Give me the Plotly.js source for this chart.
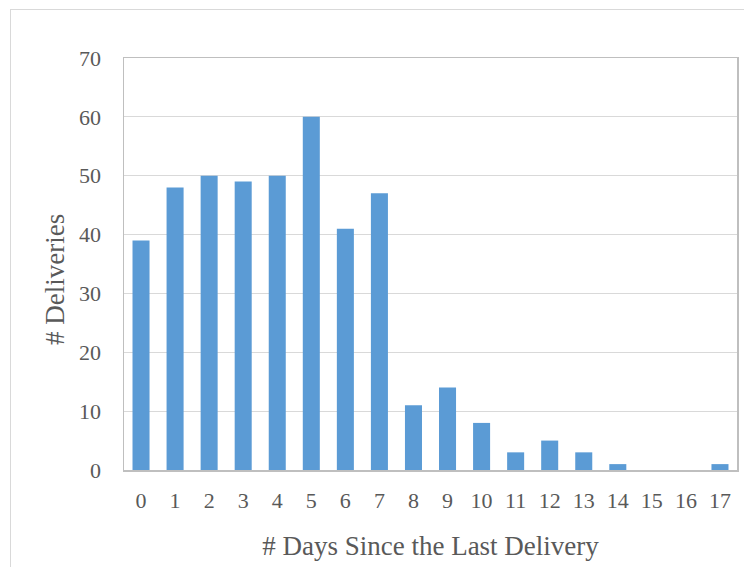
<!DOCTYPE html>
<html>
<head>
<meta charset="utf-8">
<script src="https://cdn.plot.ly/plotly-3.0.1.min.js"></script>
<style>
  html, body { margin: 0; padding: 0; background: #fff; }
  #wrap { position: relative; width: 744px; height: 567px; overflow: hidden; }
  #frame { position: absolute; left: 10px; top: 9px; width: 760px; height: 600px; border: 1px solid #d9d9d9; pointer-events: none; }
  #chart { position: absolute; left: 0; top: 0; width: 744px; height: 567px; }
</style>
</head>
<body>
<div id="wrap">
  <div id="chart"></div>
  <div id="frame"></div>
</div>
<script>
const days = ["0","1","2","3","4","5","6","7","8","9","10","11","12","13","14","15","16","17"];
const deliveries = [39, 48, 50, 49, 50, 60, 41, 47, 11, 14, 8, 3, 5, 3, 1, 0, 0, 1];
const yTicks = [0, 10, 20, 30, 40, 50, 60, 70];
const xTitle = "# Days Since the Last Delivery";
const yTitle = "# Deliveries";

const fontFam = '"Liberation Serif", "Times New Roman", serif';

Plotly.newPlot('chart', [{
  type: 'bar',
  x: days,
  y: deliveries,
  marker: { color: '#5B9BD5' },
  hoverinfo: 'x+y'
}], {
  width: 744,
  height: 567,
  margin: { l: 124, r: 7, t: 58, b: 97, pad: 0 },
  paper_bgcolor: 'rgba(0,0,0,0)',
  plot_bgcolor: '#fff',
  bargap: 0.5,
  showlegend: false,
  font: { family: fontFam, color: '#595959', size: 22 },
  xaxis: {
    type: 'category',
    tickvals: days,
    ticktext: days,
    tickfont: { family: fontFam, size: 22, color: '#595959' },
    showgrid: false,
    showline: true,
    linecolor: '#bfbfbf',
    linewidth: 1.5,
    mirror: true,
    ticks: '',
    ticklabelstandoff: 10,
    title: { text: xTitle, font: { family: fontFam, size: 27, color: '#595959' }, standoff: 24 },
    fixedrange: true
  },
  yaxis: {
    range: [0, 70],
    tickvals: yTicks,
    tickfont: { family: fontFam, size: 22, color: '#595959' },
    showgrid: true,
    gridcolor: '#d9d9d9',
    gridwidth: 1,
    zeroline: false,
    showline: true,
    linecolor: '#bfbfbf',
    linewidth: 1.5,
    mirror: true,
    ticks: '',
    ticklabelstandoff: 17,
    fixedrange: true
  },
  annotations: [{
    text: yTitle,
    xref: 'paper', yref: 'paper',
    x: 0, y: 0.461,
    xshift: -69,
    xanchor: 'center', yanchor: 'middle',
    textangle: -90,
    showarrow: false,
    font: { family: fontFam, size: 27, color: '#595959' }
  }]
}, { displayModeBar: false, staticPlot: true });
</script>
</body>
</html>
